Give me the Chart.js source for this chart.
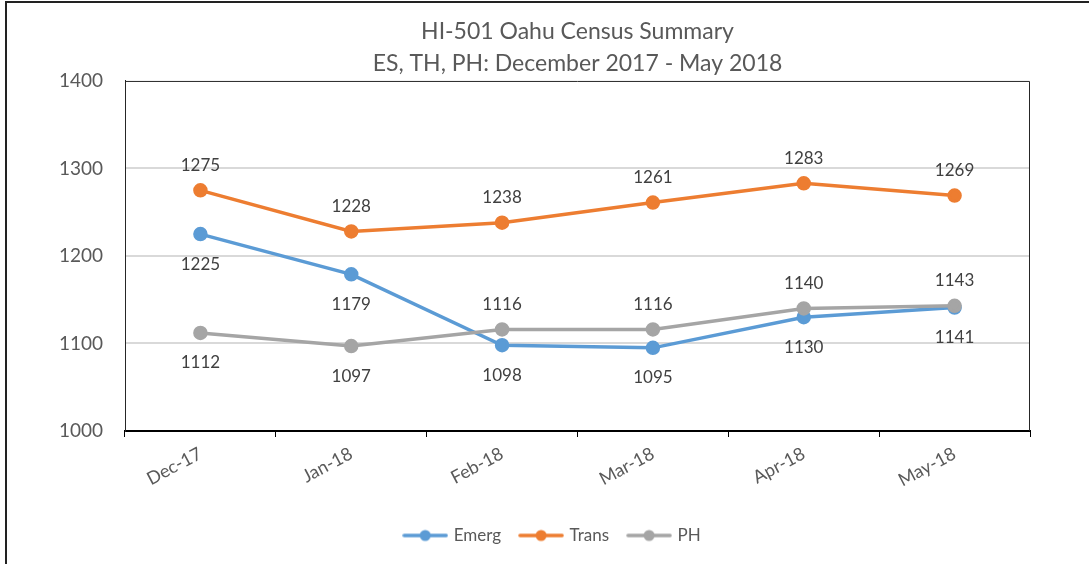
<!DOCTYPE html>
<html>
<head>
<meta charset="utf-8">
<script src="https://cdn.jsdelivr.net/npm/chart.js@4/dist/chart.umd.min.js"></script>
<style>
  html, body { margin: 0; padding: 0; background: #fff; overflow: hidden; }
  #wrap { position: relative; width: 1089px; height: 564px; }
  #frame { position: absolute; left: 5px; top: 1px; width: 1200px; height: 700px; border: 2px solid #222; pointer-events: none; }
  canvas { position: absolute; left: 0; top: 0; }
</style>
</head>
<body>
<div id="wrap">
  <canvas id="censusChart" width="1089" height="564"></canvas>
  <div id="frame"></div>
</div>
<script>
const months = ['Dec-17', 'Jan-18', 'Feb-18', 'Mar-18', 'Apr-18', 'May-18'];
const emerg = [1225, 1179, 1098, 1095, 1130, 1141];
const trans = [1275, 1228, 1238, 1261, 1283, 1269];
const ph = [1112, 1097, 1116, 1116, 1140, 1143];
const yTicks = [1000, 1100, 1200, 1300, 1400];

// where each value label sits relative to its point
const labelSide = [
    ['below', 'below', 'below', 'below', 'below', 'below'],
    ['above', 'above', 'above', 'above', 'above', 'above'],
    ['below', 'below', 'above', 'above', 'above', 'above']
];

const FONT = 'Lato, "Open Sans", sans-serif';

function legendMarker(color) {
    const c = document.createElement('canvas');
    c.width = 46;
    c.height = 14;
    const g = c.getContext('2d');
    g.strokeStyle = color;
    g.lineWidth = 3.5;
    g.lineCap = 'round';
    g.beginPath();
    g.moveTo(2, 7);
    g.lineTo(44, 7);
    g.stroke();
    g.fillStyle = color;
    g.beginPath();
    g.arc(23, 7, 5.5, 0, Math.PI * 2);
    g.fill();
    return c;
}

const valueLabels = {
    id: 'valueLabels',
    afterDatasetsDraw(chart) {
        const ctx = chart.ctx;
        ctx.save();
        ctx.font = '17px ' + FONT;
        ctx.fillStyle = '#404040';
        ctx.textAlign = 'center';
        ctx.textBaseline = 'middle';
        chart.data.datasets.forEach((ds, di) => {
            const meta = chart.getDatasetMeta(di);
            meta.data.forEach((pt, i) => {
                const up = labelSide[di][i] === 'above';
                ctx.fillText(String(ds.data[i]), pt.x, up ? pt.y - 25 : pt.y + 30);
            });
        });
        ctx.restore();
    }
};

const plotFrame = {
    id: 'plotFrame',
    afterLayout(chart) {
        // Excel centres the legend a little right of the canvas middle
        chart.legend.left += 38;
        chart.legend.right += 38;
    },
    afterDraw(chart) {
        const a = chart.chartArea;
        const ctx = chart.ctx;
        ctx.save();
        ctx.strokeStyle = '#262626';
        ctx.lineWidth = 1;
        ctx.beginPath();
        ctx.moveTo(a.left + 0.5, a.bottom);
        ctx.lineTo(a.left + 0.5, a.top + 0.5);
        ctx.lineTo(a.right - 0.5, a.top + 0.5);
        ctx.lineTo(a.right - 0.5, a.bottom);
        ctx.stroke();
        ctx.restore();
    }
};

function series(label, data, color, order) {
    return {
        label: label,
        data: data,
        borderColor: color,
        backgroundColor: color,
        borderWidth: 3.5,
        pointRadius: 5.5,
        pointHoverRadius: 5.5,
        pointBackgroundColor: color,
        pointBorderColor: color,
        tension: 0,
        fill: false,
        order: order
    };
}

const ctx = document.getElementById('censusChart').getContext('2d');
new Chart(ctx, {
    type: 'line',
    data: {
        labels: months,
        datasets: [
            series('Emerg', emerg, '#5B9BD5', 3),
            series('Trans', trans, '#ED7D31', 2),
            series('PH', ph, '#A5A5A5', 1)
        ]
    },
    options: {
        responsive: false,
        animation: false,
        layout: {
            padding: { left: 0, right: 59, top: 0, bottom: 10 }
        },
        plugins: {
            title: {
                display: true,
                fullSize: false,
                text: ['HI-501 Oahu Census Summary', 'ES, TH, PH: December 2017 - May 2018'],
                color: '#595959',
                font: { family: FONT, size: 23, weight: 'normal', lineHeight: 1.39 },
                padding: { top: 16, bottom: 1 }
            },
            legend: {
                position: 'bottom',
                labels: {
                    color: '#595959',
                    font: { family: FONT, size: 17 },
                    usePointStyle: true,
                    pointStyleWidth: 40,
                    padding: 20,
                    sort: (a, b) => a.datasetIndex - b.datasetIndex,
                    generateLabels(chart) {
                        const items = Chart.defaults.plugins.legend.labels.generateLabels(chart);
                        items.forEach(it => {
                            it.pointStyle = legendMarker(chart.data.datasets[it.datasetIndex].borderColor);
                        });
                        return items;
                    }
                }
            },
            tooltip: { enabled: false }
        },
        scales: {
            x: {
                offset: true,
                afterFit(scale) { scale.height = 76; },
                ticks: {
                    color: '#595959',
                    font: { family: FONT, size: 18 },
                    minRotation: 28,
                    maxRotation: 28,
                    padding: 6
                },
                grid: {
                    offset: true,
                    drawOnChartArea: false,
                    drawTicks: true,
                    tickLength: 6,
                    color: '#000'
                },
                border: { display: true, color: '#000', width: 2 }
            },
            y: {
                min: 1000,
                max: 1400,
                afterFit(scale) { scale.width = 125; },
                afterBuildTicks(scale) { scale.ticks = yTicks.map(v => ({ value: v })); },
                ticks: {
                    color: '#595959',
                    font: { family: FONT, size: 19 },
                    padding: 22,
                    callback: v => String(v)
                },
                grid: {
                    drawTicks: false,
                    color: c => (c.tick.value === 1000 || c.tick.value === 1400) ? 'rgba(0,0,0,0)' : '#d9d9d9',
                    lineWidth: 2
                },
                border: { display: true, color: '#262626', width: 1 }
            }
        }
    },
    plugins: [valueLabels, plotFrame]
});
</script>
</body>
</html>
